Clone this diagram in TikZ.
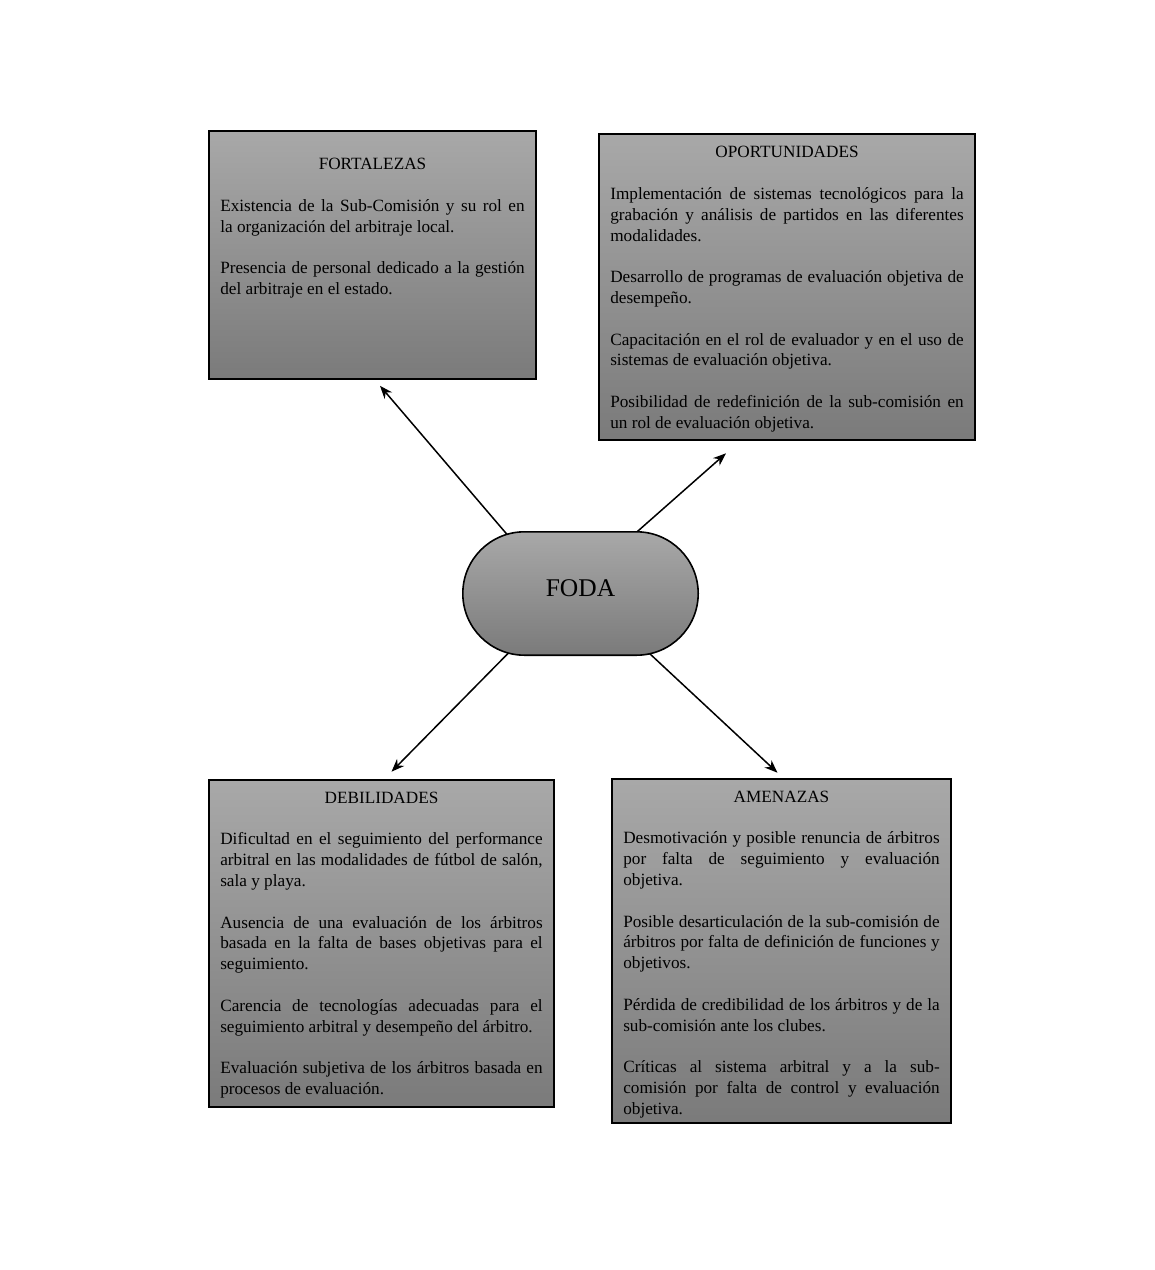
\documentclass[tikz,border=0pt]{standalone}
\usepackage{fontspec}
\setmainfont{Liberation Serif}
\usetikzlibrary{arrows.meta, shapes.misc, backgrounds}
\newcommand{\cuadro}[5]{\parbox[c][#1][t]{#2}{\fontsize{17.2}{20.8}\selectfont
  \setlength{\parindent}{0pt}\setlength{\parskip}{20.8pt}\tolerance=10000\hbadness=10000
  \makebox[\linewidth]{\rule{0pt}{#3}#4}\par #5\par}}
\tikzset{
  caja/.style={draw, line width=1.6pt, top color=black!34, bottom color=black!52, inner xsep=11.5pt, inner ysep=0pt},
  flecha/.style={-{Stealth[length=13pt,width=10pt]}, line width=1.5pt}
}

\begin{document}
\begin{tikzpicture}[x=1pt, y=-1pt]
  \useasboundingbox (0,0) rectangle (1155,1270);
  \node[caja] (fort) at (372.5,255) {\cuadro{248.4pt}{304.4pt}{39pt}{FORTALEZAS}{%
    Existencia de la Sub-Comisión y su rol en\linebreak la organización del arbitraje local.\par
    Presencia de personal dedicado a la gestión\linebreak del arbitraje en el estado.}};
  \node[caja] (opor) at (787,287) {\cuadro{306.4pt}{353.4pt}{24pt}{OPORTUNIDADES}{%
    Implementación de sistemas tecnológicos para la\linebreak grabación y análisis de partidos en las diferentes\linebreak modalidades.\par
    Desarrollo de programas de evaluación objetiva de\linebreak desempeño.\par
    Capacitación en el rol de evaluador y en el uso de\linebreak sistemas de evaluación objetiva.\par
    Posibilidad de redefinición de la sub-comisión en\linebreak un rol de evaluación objetiva.}};
  \node[caja] (debi) at (381.5,943.5) {\cuadro{327.4pt}{322.4pt}{23.5pt}{DEBILIDADES}{%
    Dificultad en el seguimiento del performance\linebreak arbitral en las modalidades de fútbol de salón,\linebreak sala y playa.\par
    Ausencia de una evaluación de los árbitros\linebreak basada en la falta de bases objetivas para el\linebreak seguimiento.\par
    Carencia de tecnologías adecuadas para el\linebreak seguimiento arbitral y desempeño del árbitro.\par
    Evaluación subjetiva de los árbitros basada en\linebreak procesos de evaluación.}};
  \node[caja] (amen) at (781.5,951) {\cuadro{344.4pt}{316.4pt}{23.5pt}{AMENAZAS}{%
    Desmotivación y posible renuncia de árbitros\linebreak por falta de seguimiento y evaluación\linebreak objetiva.\par
    Posible desarticulación de la sub-comisión de\linebreak árbitros por falta de definición de funciones y\linebreak objetivos.\par
    Pérdida de credibilidad de los árbitros y de la\linebreak sub-comisión ante los clubes.\par
    Críticas al sistema arbitral y a la sub-\linebreak comisión por falta de control y evaluación\linebreak objetiva.}};
  \node[caja, rounded rectangle, inner sep=0pt, minimum width=235.4pt, minimum height=123.4pt,
    font=\fontsize{25.5}{30}\selectfont] (foda) at (580.5,593.5) {\raisebox{11pt}{FODA}};
  \begin{scope}[on background layer]
    \fill[white] (0,0) rectangle (1155,1270);
    \draw[flecha] ([xshift=-65.8pt,yshift=50.1pt]foda.center) -- ([xshift=7.5pt,yshift=-5.8pt]fort.south);
    \draw[flecha] ([xshift=47.8pt,yshift=54pt]foda.center) -- ([xshift=-61pt,yshift=-12.3pt]opor.south);
    \draw[flecha] ([xshift=-63.5pt,yshift=-50.8pt]foda.center) -- ([xshift=10pt,yshift=7.3pt]debi.north);
    \draw[flecha] ([xshift=59.6pt,yshift=-51.2pt]foda.center) -- ([xshift=-4pt,yshift=5.3pt]amen.north);
  \end{scope}
\end{tikzpicture}
\end{document}
